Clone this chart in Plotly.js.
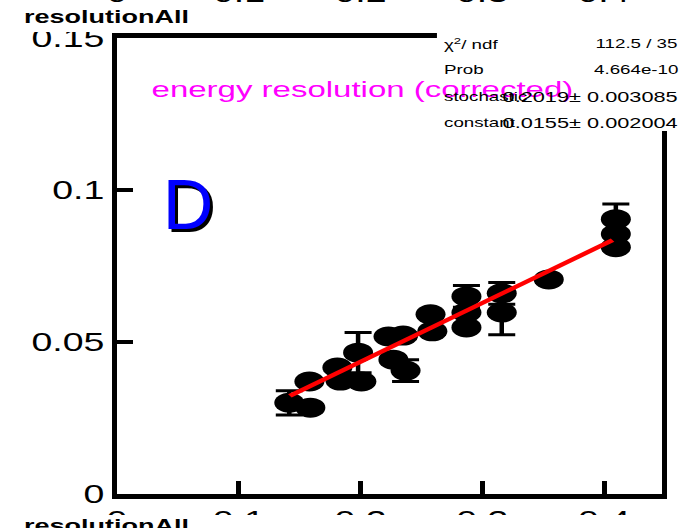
<!DOCTYPE html>
<html>
<head>
<meta charset="utf-8">
<script src="https://cdn.plot.ly/plotly-3.0.1.min.js"></script>
<style>
html, body { margin: 0; padding: 0; background: #fff; overflow: hidden; }
#chart { width: 456px; height: 528px; transform: scaleX(1.5); transform-origin: 0 0; }
#chart g.annotation[data-index="0"], #chart g.annotation[data-index="1"] {
  transform-box: fill-box; transform-origin: center; transform: scaleX(0.6667);
}
</style>
</head>
<body>
<div id="chart"></div>
<script>
// ---- data ----
const xVals = [0.1415, 0.1588, 0.158, 0.181, 0.1835, 0.2007, 0.198, 0.223, 0.235, 0.227, 0.237,
               0.2575, 0.259, 0.287, 0.287, 0.287, 0.316, 0.316, 0.3546, 0.4097, 0.4097, 0.4097];
const yVals = [0.0300, 0.0284, 0.0370, 0.0416, 0.0373, 0.0370, 0.0465, 0.0518, 0.0521, 0.0442, 0.0406,
               0.0591, 0.0535, 0.0650, 0.0597, 0.0548, 0.0660, 0.0597, 0.0706, 0.0904, 0.0855, 0.0812];
const yErrs = [0.004, 0.001, 0.001, 0.001, 0.001, 0.001, 0.0066, 0.001, 0.001, 0.001, 0.0036,
               0.001, 0.001, 0.0036, 0.001, 0.001, 0.0036, 0.0073, 0.001, 0.005, 0.001, 0.001];

const fitX = [0.142, 0.275, 0.407];
const fitY = [0.0323, 0.0580, 0.0835];

const xTickVals = [0, 0.1, 0.2, 0.3, 0.4];
const xTickText = ['0', '0.1', '0.2', '0.3', '0.4'];
const yTickVals = [0, 0.05, 0.1, 0.15];
const yTickText = ['0', '0.05', '0.1', '0.15'];

const histName = 'resolutionAll';
const plotLabel = 'energy resolution (corrected)';
const panelLetter = 'D';
const statNames = ['χ<sup>2</sup>/ ndf', 'Prob', 'stochastic', 'constant'];
const statValues = ['112.5 / 35', '4.664e-10', '0.2019± 0.003085', '0.0155± 0.002004'];
const statValueSizes = [12.5, 12.5, 14.5, 14.5];

// ---- drawing ----
const FONT = 'Liberation Sans, Arial, Helvetica, sans-serif';

const traces = [
  {
    type: 'scatter', mode: 'markers', x: xVals, y: yVals,
    marker: { color: '#000', size: 20, line: { width: 0 } },
    error_y: { type: 'data', array: yErrs, visible: true, color: '#000', thickness: 3, width: 9 },
    hoverinfo: 'skip'
  },
  {
    type: 'scatter', mode: 'lines', x: fitX, y: fitY,
    line: { color: '#ff0000', width: 4 }, hoverinfo: 'skip'
  }
];

const statY = [0.9879, 0.9309, 0.8706, 0.8136];
const annotations = [
  { xref: 'paper', yref: 'paper', x: 0.1322 + 0.0055, y: 0.6327 - 0.0066, text: panelLetter,
    showarrow: false, xanchor: 'center', yanchor: 'middle', font: { family: FONT, size: 70, color: '#000' } },
  { xref: 'paper', yref: 'paper', x: 0.1322, y: 0.6327, text: panelLetter,
    showarrow: false, xanchor: 'center', yanchor: 'middle', font: { family: FONT, size: 70, color: '#0000ff' } },
  { xref: 'paper', yref: 'paper', x: 0.0584, y: 0.886, text: plotLabel,
    showarrow: false, xanchor: 'left', yanchor: 'middle', font: { family: FONT, size: 22, color: '#ff00ff' } },
  { xref: 'paper', yref: 'paper', x: -0.177, y: 1.0467, text: '<b>' + histName + '</b>',
    showarrow: false, xanchor: 'left', yanchor: 'middle', font: { family: FONT, size: 18, color: '#000' } },
  { xref: 'paper', yref: 'paper', x: -0.177, y: -0.0695, text: '<b>' + histName + '</b>',
    showarrow: false, xanchor: 'left', yanchor: 'middle', font: { family: FONT, size: 18, color: '#000' } }
];
statNames.forEach((n, i) => {
  annotations.push({ xref: 'paper', yref: 'paper', x: 0.596, y: statY[i], text: n, showarrow: false,
    xanchor: 'left', yanchor: 'middle', font: { family: FONT, size: 12.5, color: '#000' } });
  annotations.push({ xref: 'paper', yref: 'paper', x: 1.0358, y: statY[i], text: statValues[i], showarrow: false,
    xanchor: 'right', yanchor: 'middle', font: { family: FONT, size: statValueSizes[i], color: '#000' } });
});
// bottoms of the neighbouring pad's tick labels, cut by the page edge
xTickVals.forEach((v, i) => {
  annotations.push({ xref: 'x', yref: 'paper', x: v, y: 1.0987, text: xTickText[i], showarrow: false,
    xanchor: 'center', yanchor: 'middle', font: { family: FONT, size: 25, color: '#000' } });
});

const shapes = [
  { type: 'rect', xref: 'paper', yref: 'paper', x0: 0.5876, x1: 1.3, y0: 0.796, y1: 1.3,
    fillcolor: '#fff', line: { width: 0 }, layer: 'above' },
  { type: 'rect', xref: 'paper', yref: 'paper', x0: -0.5, x1: 1.3, y0: 1.0132, y1: 1.072,
    fillcolor: '#fff', line: { width: 0 }, layer: 'above' },
  { type: 'rect', xref: 'paper', yref: 'paper', x0: -0.5, x1: 1.3, y0: -0.3, y1: -0.046,
    fillcolor: '#fff', line: { width: 0 }, layer: 'above' }
];

const layout = {
  width: 456, height: 528,
  margin: { l: 78, r: 15, t: 38, b: 34, pad: 0 },
  paper_bgcolor: '#fff', plot_bgcolor: '#fff',
  showlegend: false,
  font: { family: FONT, color: '#000' },
  xaxis: {
    range: [0, 0.4472], tickmode: 'array', tickvals: xTickVals, ticktext: xTickText,
    ticks: 'inside', ticklen: 13, tickwidth: 3.3, tickcolor: '#000',
    showline: true, linewidth: 5, linecolor: '#000', mirror: true,
    showgrid: false, zeroline: false, tickfont: { family: FONT, size: 25, color: '#000' }
  },
  yaxis: {
    range: [0, 0.15], tickmode: 'array', tickvals: yTickVals, ticktext: yTickText,
    ticks: 'inside', ticklen: 10.7, tickwidth: 4, tickcolor: '#000',
    showline: true, linewidth: 3.4, linecolor: '#000', mirror: true,
    showgrid: false, zeroline: false, tickfont: { family: FONT, size: 25, color: '#000' }
  },
  shapes: shapes,
  annotations: annotations
};

Plotly.newPlot('chart', traces, layout, { displayModeBar: false, staticPlot: true });
</script>
</body>
</html>
